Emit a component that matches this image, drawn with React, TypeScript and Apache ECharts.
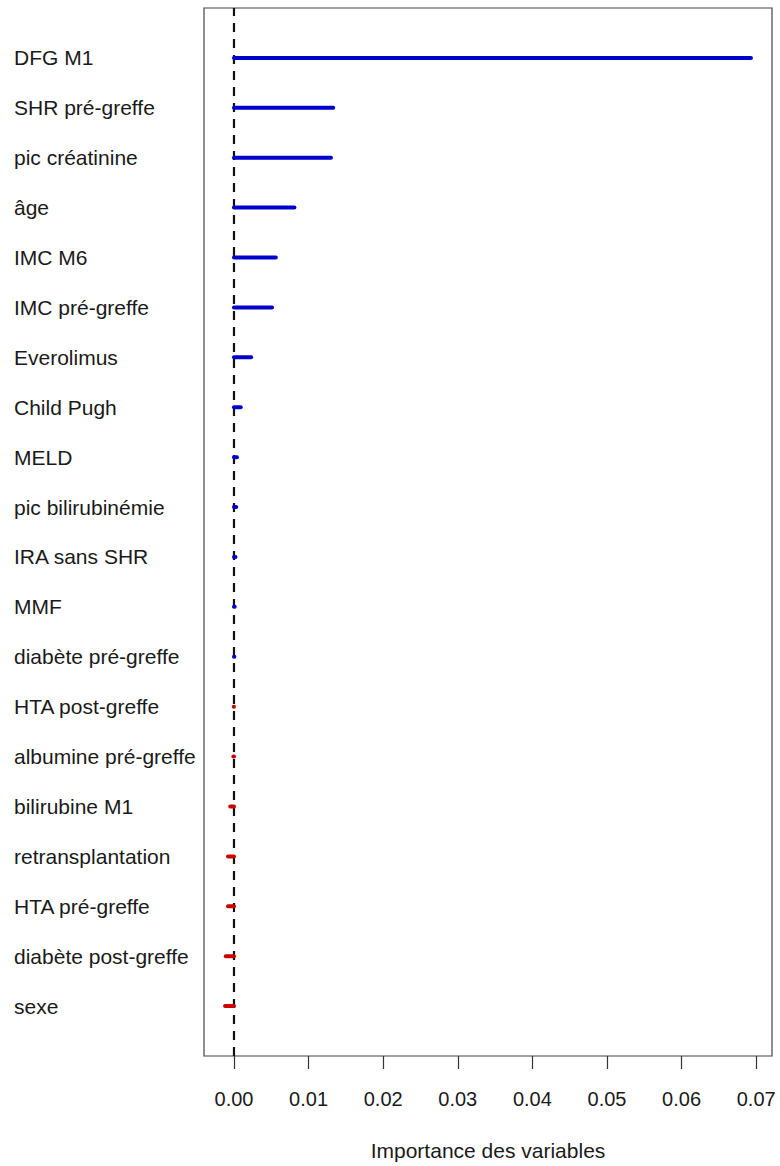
import React, { useEffect, useRef } from "react";
import * as echarts from "echarts";

// Variables, top to bottom
const variables = [
  "DFG M1",
  "SHR pré-greffe",
  "pic créatinine",
  "âge",
  "IMC M6",
  "IMC pré-greffe",
  "Everolimus",
  "Child Pugh",
  "MELD",
  "pic bilirubinémie",
  "IRA sans SHR",
  "MMF",
  "diabète pré-greffe",
  "HTA post-greffe",
  "albumine pré-greffe",
  "bilirubine M1",
  "retransplantation",
  "HTA pré-greffe",
  "diabète post-greffe",
  "sexe",
];

// Importance of each variable (same order)
const importance = [
  0.0693, 0.0133, 0.013, 0.0081, 0.0056, 0.0051, 0.0023, 0.0009, 0.0004, 0.0003,
  0.0002, 0.0001, 0.00005, -0.00003, -0.00008, -0.0005, -0.0008, -0.0008, -0.0011,
  -0.0012,
];

const xTicks = [0, 0.01, 0.02, 0.03, 0.04, 0.05, 0.06, 0.07];

const FONT = "'Liberation Sans', Arial, sans-serif";

export default function App() {
  const ref = useRef<HTMLDivElement>(null);

  useEffect(() => {
    if (!ref.current) return;
    const chart = echarts.init(ref.current, null, { renderer: "svg" });
    const n = variables.length;
    // row position: first variable at the top (n), last at 1
    const rows = variables.map((name, i) => [importance[i], n - i, name]);
    const rowNames: Record<number, string> = {};
    variables.forEach((name, i) => (rowNames[n - i] = name));

    chart.setOption({
      animation: false,
      backgroundColor: "#ffffff",
      grid: {
        left: 204,
        right: 8,
        top: 8,
        bottom: 110,
        show: true,
        borderColor: "#444",
        borderWidth: 1.2,
        backgroundColor: "transparent",
      },
      xAxis: {
        type: "value",
        min: -0.00402,
        max: 0.07212,
        splitLine: { show: false },
        axisLine: { show: false },
        axisTick: {
          show: true,
          length: 13,
          lineStyle: { color: "#333", width: 1.2 },
          customValues: xTicks,
        },
        axisLabel: {
          customValues: xTicks,
          formatter: (v: number) => v.toFixed(2),
          fontFamily: FONT,
          fontSize: 20,
          color: "#1a1a1a",
          margin: 33,
        },
        name: "Importance des variables",
        nameLocation: "middle",
        nameGap: 84,
        nameTextStyle: { fontFamily: FONT, fontSize: 21, color: "#1a1a1a" },
      },
      yAxis: {
        type: "value",
        min: 0,
        max: n + 1,
        interval: 1,
        splitLine: { show: false },
        axisLine: { show: false },
        axisTick: { show: false },
        axisLabel: {
          formatter: (v: number) => rowNames[Math.round(v)] ?? "",
          align: "left",
          margin: 190,
          fontFamily: FONT,
          fontSize: 21,
          color: "#1a1a1a",
        },
      },
      series: [
        {
          type: "line",
          data: [
            [0, 0],
            [0, n + 1],
          ],
          symbol: "none",
          silent: true,
          lineStyle: { color: "#111", width: 2.2, type: [9, 7] },
          z: 1,
        },
        {
          type: "custom",
          data: rows,
          z: 2,
          renderItem: (params: any, api: any) => {
            const v = api.value(0);
            const y = api.value(1);
            const p0 = api.coord([0, y]);
            const p1 = api.coord([v, y]);
            return {
              type: "line",
              shape: { x1: p0[0], y1: p0[1], x2: p1[0], y2: p1[1] },
              style: {
                stroke: v >= 0 ? "#0000CD" : "#CD0000",
                lineWidth: 4,
                lineCap: "round",
              },
            };
          },
        },
      ],
    });

    return () => chart.dispose();
  }, []);

  return (
    <div
      ref={ref}
      style={{ position: "absolute", left: 0, top: 0, width: 780, height: 1166 }}
    />
  );
}
